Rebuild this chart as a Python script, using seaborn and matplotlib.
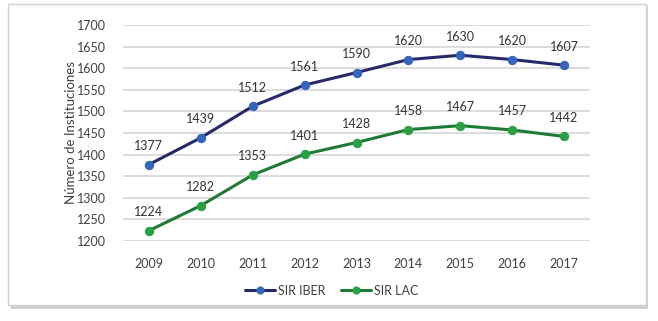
import matplotlib
matplotlib.use("Agg")
import matplotlib.pyplot as plt
import seaborn as sns
import pandas as pd
from matplotlib.patches import Rectangle

years = [2009, 2010, 2011, 2012, 2013, 2014, 2015, 2016, 2017]
sir_iber = [1377, 1439, 1512, 1561, 1590, 1620, 1630, 1620, 1607]
sir_lac = [1224, 1282, 1353, 1401, 1428, 1458, 1467, 1457, 1442]
series_names = ["SIR IBER", "SIR LAC"]
yticks = [1200, 1250, 1300, 1350, 1400, 1450, 1500, 1550, 1600, 1650, 1700]

df = pd.DataFrame({
    "year": years * 2,
    "value": sir_iber + sir_lac,
    "serie": [series_names[0]] * len(years) + [series_names[1]] * len(years),
})

sns.set_theme(style="white")
plt.rcParams['font.family'] = ['Lato', 'DejaVu Sans']

W, H = 658, 321
fig = plt.figure(figsize=(W / 100, H / 100), dpi=100)
fig.patch.set_facecolor("white")

# frame with shadow
fig.patches.append(Rectangle((11 / W, 1 - 309 / H), 637 / W, 303 / H, transform=fig.transFigure,
                             facecolor="#bdbdbd", edgecolor="none", zorder=0, alpha=0.7))
fig.patches.append(Rectangle((8 / W, 1 - 305 / H), 638 / W, 301 / H, transform=fig.transFigure,
                             facecolor="white", edgecolor="#d0d0d0", linewidth=1, zorder=1))

left, right = 123, 590
top, bottom = 25, 241
ax = fig.add_axes([left / W, 1 - bottom / H, (right - left) / W, (bottom - top) / H])
ax.set_zorder(2)
ax.patch.set_alpha(0)

line_colors = {"SIR IBER": "#262a6b", "SIR LAC": "#1f7a36"}
marker_colors = {"SIR IBER": "#3565bd", "SIR LAC": "#2aa045"}

for name, vals in [("SIR IBER", sir_iber), ("SIR LAC", sir_lac)]:
    sub = df[df["serie"] == name]
    sns.lineplot(data=sub, x="year", y="value", ax=ax, color=line_colors[name], linewidth=2.2,
                 marker="o", markersize=6, markerfacecolor=marker_colors[name],
                 markeredgecolor=marker_colors[name], label=name, zorder=3)
    for x, y in zip(years, vals):
        ax.annotate(str(y), (x, y), xytext=(0, 9), textcoords="offset points",
                    ha="center", va="bottom", fontsize=9, color="#333333")

ax.set_xlim(2008.5, 2017.5)
ax.set_ylim(1200, 1700)
ax.set_yticks(yticks)
ax.set_xticks(years)
ax.set_xticklabels([str(y) for y in years])
ax.grid(axis="y", color="#d9d9d9", linewidth=1.3)
ax.set_axisbelow(True)
for s in ax.spines.values():
    s.set_visible(False)
ax.tick_params(axis="both", length=0, labelsize=9, labelcolor="#404040")
ax.tick_params(axis="y", pad=12)
ax.tick_params(axis="x", pad=12)
ax.set_xlabel("")
ax.set_ylabel("Número de Instituciones", fontsize=9.5, color="#404040", labelpad=0)

ax.legend(loc="upper center", bbox_to_anchor=(0.447, -0.15), ncol=2, frameon=False,
          fontsize=9, handlelength=2.4, columnspacing=1.2, handletextpad=0.3,
          labelcolor="#404040", markerscale=0.85)

fig.savefig("out.png", dpi=100)
